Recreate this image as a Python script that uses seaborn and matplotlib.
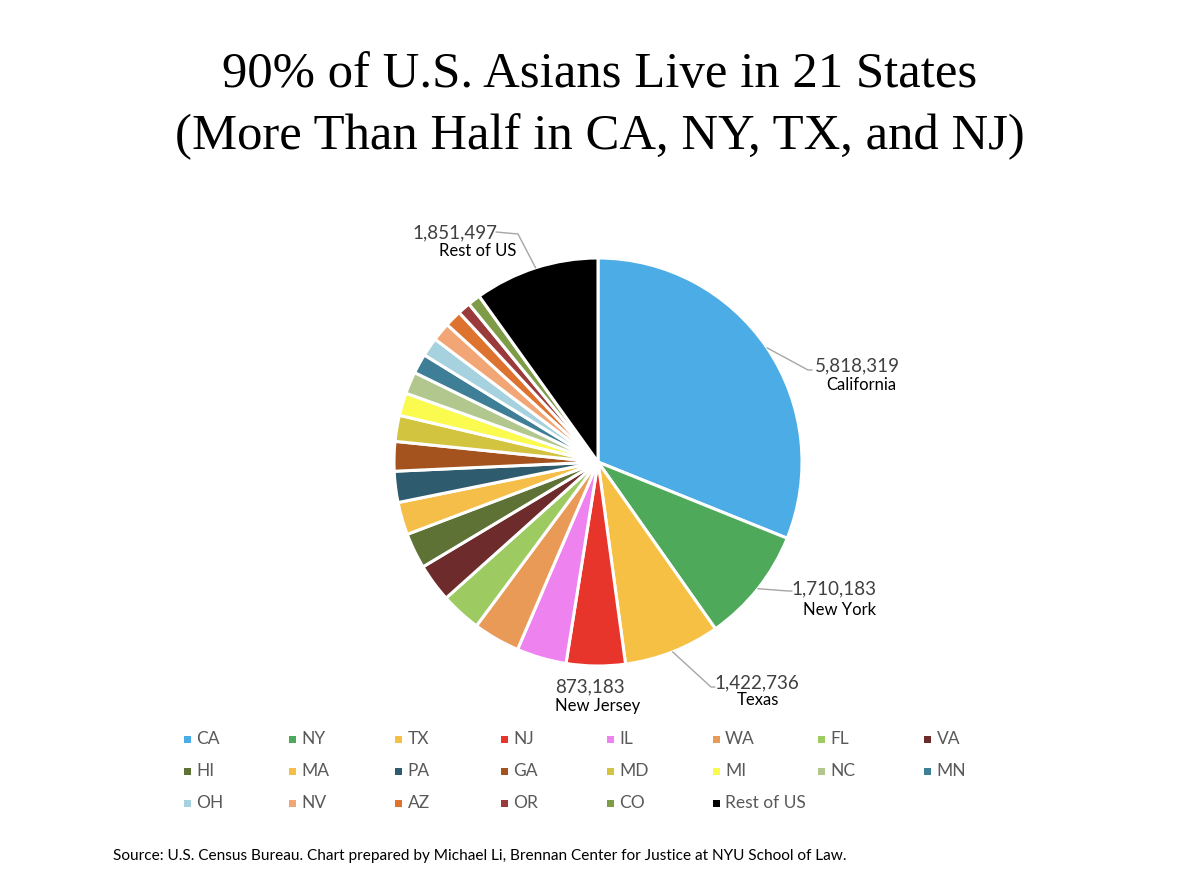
import numpy as np
import matplotlib
matplotlib.use("Agg")
import matplotlib.pyplot as plt
import seaborn as sns
from matplotlib.patches import Rectangle

sns.set_theme(style="white")
plt.rcParams['font.family'] = ['Lato', 'DejaVu Sans']

states = ["CA", "NY", "TX", "NJ", "IL", "WA", "FL", "VA", "HI", "MA", "PA",
          "GA", "MD", "MI", "NC", "MN", "OH", "NV", "AZ", "OR", "CO", "Rest of US"]
values = [5818319, 1710183, 1422736, 873183, 738000, 693000, 602000, 568000,
          528000, 483000, 461000, 437000, 386000, 336000, 327000, 294000,
          278000, 276000, 249000, 190000, 188000, 1851497]
colors = ["#4BACE6", "#4EA95A", "#F6C044", "#E8352B", "#EE82EE", "#EA9A57",
          "#9DCB62", "#6E2B2B", "#5E7235", "#F4BE48", "#2E5B6E", "#A5531E",
          "#D3C43F", "#FAFA4F", "#B2C78D", "#3E7E97", "#A6D1DE", "#F2A676",
          "#DE722F", "#9A3A3A", "#7E9B47", "#000000"]
label_names = {"CA": "California", "NY": "New York", "TX": "Texas",
               "NJ": "New Jersey", "Rest of US": "Rest of US"}
title_lines = ["90% of U.S. Asians Live in 21 States",
               "(More Than Half in CA, NY, TX, and NJ)"]
source = ("Source: U.S. Census Bureau. Chart prepared by Michael Li, "
          "Brennan Center for Justice at NYU School of Law.")

W, H = 1200, 892
fig = plt.figure(figsize=(W / 100, H / 100), dpi=100)
fig.patch.set_facecolor("white")

cx, cy, R = 598, 462, 204
ax = fig.add_axes([(cx - R) / W, (H - cy - R) / H, 2 * R / W, 2 * R / H])
wedges, _ = ax.pie(values, colors=colors, startangle=90, counterclock=False,
                   radius=1.0,
                   wedgeprops=dict(edgecolor="white", linewidth=2.2))
ax.set_xlim(-1, 1)
ax.set_ylim(-1, 1)
ax.set_aspect("equal")
ax.axis("off")

# data labels: (value-text center px, name-text center px, leader elbow px)
lab_pos = {
    "CA": ((857, 366), (861, 385), (808, 370)),
    "NY": ((834, 589), (840, 610), (788, 591)),
    "TX": ((757, 683), (758, 700), (711, 687)),
    "NJ": ((590, 687), (598, 706), None),
    "Rest of US": ((455, 233), (478, 251), (496, 232)),
}

def px2d(p):
    return ((p[0] - cx) / R, (cy - p[1]) / R)

for i, s in enumerate(states):
    if s not in lab_pos:
        continue
    vp, npos, elbow = lab_pos[s]
    w = wedges[i]
    mid = np.deg2rad((w.theta1 + w.theta2) / 2)
    edge = (np.cos(mid), np.sin(mid))
    vx, vy = px2d(vp)
    nx, ny = px2d(npos)
    ax.text(vx, vy, f"{values[i]:,}", ha="center", va="center",
            fontsize=13.5, color="#404040", clip_on=False)
    ax.text(nx, ny, label_names[s], ha="center", va="center",
            fontsize=12, color="black", clip_on=False)
    if elbow is not None:
        ex, ey = px2d(elbow)
        if s == "Rest of US":
            ax.plot([ex, ex + 22 / R, edge[0]], [ey, ey - 2 / R, edge[1]],
                    color="#A6A6A6", lw=1.0, clip_on=False)
        else:
            ax.plot([edge[0], ex, ex + 4 / R], [edge[1], ey, ey],
                    color="#A6A6A6", lw=1.0, clip_on=False)

# title
fig.text(0.5, 1 - 75 / H, title_lines[0], ha="center", va="center",
         fontsize=36.5, family="Liberation Serif", color="black")
fig.text(0.5, 1 - 137 / H, title_lines[1], ha="center", va="center",
         fontsize=36.5, family="Liberation Serif", color="black")

# legend (uniform grid like the original)
x0, dx = 187, 105.8
y0, dy = 739, 32
for i, s in enumerate(states):
    r, c = divmod(i, 8)
    mx = x0 + c * dx
    my = y0 + r * dy
    fig.add_artist(Rectangle(((mx - 3.5) / W, 1 - (my + 3.5) / H), 7 / W, 7 / H,
                             transform=fig.transFigure, facecolor=colors[i],
                             edgecolor="none"))
    fig.text((mx + 9) / W, 1 - my / H, s, ha="left", va="center",
             fontsize=12.5, color="#595959")

fig.text(113 / W, 1 - 856 / H, source, ha="left", va="center",
         fontsize=11.1, color="black")

fig.savefig("out.png", dpi=100, facecolor="white")
